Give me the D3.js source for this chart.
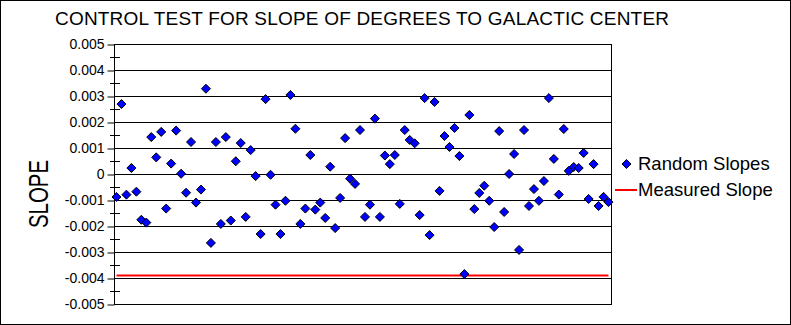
<!DOCTYPE html>
<html>
<head>
<meta charset="utf-8">
<title>Control test for slope</title>
<script src="https://d3js.org/d3.v7.min.js"></script>
<style>
  body { margin: 0; background: #fff; }
  svg text { font-family: Arial, "Liberation Sans", sans-serif; fill: #000; }
</style>
</head>
<body>
<div id="chart"></div>
<script>
// Random slopes (x 1e-3), one per trial
const randomSlopes = [
  -0.885, 2.69, -0.795, 0.23, -0.68, -1.76, -1.87, 1.42, 0.64, 1.62,
  -1.33, 0.40, 1.67, 0.01, -0.72, 1.23, -1.10, -0.60, 3.28, -2.65,
  1.23, -1.92, 1.42, -1.79, 0.49, 1.19, -1.65, 0.92, -0.08, -2.31,
  2.88, -0.03, -1.18, -2.31, -1.03, 3.04, 1.74, -1.92, -1.33, 0.73,
  -1.37, -1.10, -1.69, 0.28, -2.08, -0.92, 1.38, -0.18, -0.38, 1.69,
  -1.65, -1.18, 2.13, -1.65, 0.71, 0.38, 0.73, -1.15, 1.69, 1.31,
  1.18, -1.58, 2.92, -2.35, 2.77, -0.65, 1.46, 1.04, 1.77, 0.69,
  -3.85, 2.27, -1.35, -0.73, -0.45, -1.03, -2.04, 1.65, -1.46, 0.0,
  0.77, -2.92, 1.69, -1.23, -0.58, -1.03, -0.27, 2.92, 0.58, -0.79,
  1.73, 0.12, 0.27, 0.23, 0.81, -0.96, 0.38, -1.23, -0.88, -1.08
].map(v => v / 1000);
const measuredSlope = -0.0039;
const yTicks = [0.005, 0.004, 0.003, 0.002, 0.001, 0, -0.001, -0.002, -0.003, -0.004, -0.005];
const seriesNames = ["Random Slopes", "Measured Slope"];

const W = 791, H = 325;
const plot = { left: 114, right: 611, top: 44, bottom: 304 };

const svg = d3.select("#chart").append("svg")
  .attr("width", W).attr("height", H);

svg.append("rect")
  .attr("x", 0.5).attr("y", 0.5)
  .attr("width", W - 1).attr("height", H - 1)
  .attr("fill", "#fff").attr("stroke", "#000");

const idx = d3.range(randomSlopes.length);
const x = d3.scalePoint().domain(idx).range([plot.left, plot.right]).padding(0.5);
const y = d3.scaleLinear().domain([-0.005, 0.005]).range([plot.bottom, plot.top]);

// gridlines
svg.append("g").selectAll("line")
  .data(yTicks)
  .join("line")
  .attr("x1", plot.left).attr("x2", plot.right)
  .attr("y1", d => Math.round(y(d)) + 0.5)
  .attr("y2", d => Math.round(y(d)) + 0.5)
  .attr("stroke", "#000");

// right border of plot
svg.append("line")
  .attr("x1", plot.right + 0.5).attr("x2", plot.right + 0.5)
  .attr("y1", plot.top).attr("y2", plot.bottom + 1)
  .attr("stroke", "#000");

// y axis
const fmt = d => d === 0 ? "0" : d3.format(".3f")(d).replace("−", "-");
const yAxis = d3.axisLeft(y)
  .tickValues(yTicks)
  .tickSize(7)
  .tickPadding(3)
  .tickFormat(fmt);
const gy = svg.append("g")
  .attr("transform", `translate(${plot.left + 0.5},0.5)`)
  .call(yAxis);
gy.select(".domain").attr("stroke", "#000").attr("d", `M0,${plot.top - 0.5}V${plot.bottom + 0.5}`);
gy.selectAll(".tick line").attr("stroke", "#000");
gy.selectAll(".tick text")
  .attr("font-size", 14)
  .attr("font-family", "Arial, 'Liberation Sans', sans-serif");

// minor ticks crossing the axis
const minor = d3.range(-0.0045, 0.005, 0.001);
svg.append("g").selectAll("line")
  .data(minor)
  .join("line")
  .attr("x1", plot.left - 4).attr("x2", plot.left + 6)
  .attr("y1", d => Math.round(y(d)) + 0.5)
  .attr("y2", d => Math.round(y(d)) + 0.5)
  .attr("stroke", "#000");

// measured slope line
svg.append("line")
  .attr("x1", x(0)).attr("x2", x(idx.length - 1))
  .attr("y1", y(measuredSlope)).attr("y2", y(measuredSlope))
  .attr("stroke", "#ff0000").attr("stroke-width", 2);

// diamonds
const diamond = d3.symbol().type(d3.symbolDiamond2).size(52);
svg.append("g").selectAll("path")
  .data(randomSlopes)
  .join("path")
  .attr("d", diamond)
  .attr("transform", (d, i) => `translate(${x(i)},${y(d)})`)
  .attr("fill", "#0000ff")
  .attr("stroke", "#000")
  .attr("stroke-width", 1);

// title
svg.append("text")
  .attr("x", 55).attr("y", 25)
  .attr("font-size", 19)
  .attr("textLength", 614)
  .attr("lengthAdjust", "spacing")
  .text("CONTROL TEST FOR SLOPE OF DEGREES TO GALACTIC CENTER");

// y axis title
svg.append("text")
  .attr("transform", "translate(48,228) rotate(-90)")
  .attr("font-size", 28)
  .attr("textLength", 68)
  .attr("lengthAdjust", "spacingAndGlyphs")
  .text("SLOPE");

// legend
const lg = svg.append("g");
lg.append("path")
  .attr("d", diamond)
  .attr("transform", "translate(626.5,164)")
  .attr("fill", "#0000ff").attr("stroke", "#000");
lg.append("text").attr("x", 638).attr("y", 170).attr("font-size", 18.5).text(seriesNames[0]);
lg.append("line")
  .attr("x1", 615).attr("x2", 637).attr("y1", 190).attr("y2", 190)
  .attr("stroke", "#ff0000").attr("stroke-width", 2);
lg.append("text").attr("x", 638).attr("y", 196).attr("font-size", 18.5).text(seriesNames[1]);
</script>
</body>
</html>
